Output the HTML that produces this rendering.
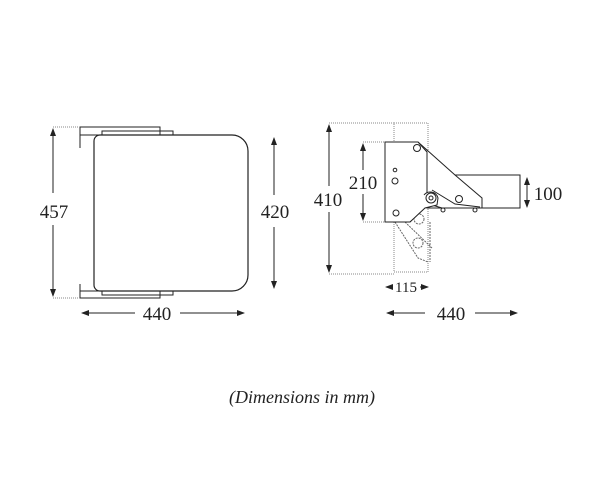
<!DOCTYPE html>
<html><head><style>body{margin:0;background:#fff}</style></head><body>
<svg width="601" height="481" viewBox="0 0 601 481" xmlns="http://www.w3.org/2000/svg" font-family="Liberation Serif, serif" fill="none" stroke="#222">
<defs><marker id="a" markerWidth="8" markerHeight="8" refX="7" refY="4" orient="auto-start-reverse"><path d="M0,1 L8,4 L0,7z" fill="#222" stroke="none"/></marker></defs>
<!-- left view -->
<rect x="80" y="127" width="80" height="8" stroke-width="1"/>
<rect x="102" y="131" width="71" height="4"/>
<rect x="80" y="291" width="80" height="7"/>
<rect x="102" y="291" width="71" height="4"/>
<path d="M80,135 V148 M80,284 V291" />
<path d="M100,135 H232 A16,16 0 0 1 248,151 V275 A16,16 0 0 1 232,291 H100 A6,6 0 0 1 94,285 V141 A6,6 0 0 1 100,135Z" fill="#fff" stroke-width="1.2"/>
<path d="M53,127 H80 M53,298 H80" stroke-dasharray="1,1" stroke="#888"/>
<line x1="53" y1="129" x2="53" y2="193" marker-start="url(#a)"/>
<line x1="53" y1="225" x2="53" y2="296" marker-end="url(#a)"/>
<line x1="274" y1="138" x2="274" y2="195" marker-start="url(#a)"/>
<line x1="274" y1="227" x2="274" y2="288" marker-end="url(#a)"/>
<line x1="82" y1="313" x2="135" y2="313" marker-start="url(#a)"/>
<line x1="180" y1="313" x2="244" y2="313" marker-end="url(#a)"/>
<g fill="#222" stroke="none" font-size="19" text-anchor="middle">
<text x="54" y="218">457</text><text x="275" y="218">420</text><text x="157" y="320">440</text>
</g>
<!-- right view -->
<rect x="394" y="123" width="34" height="149" stroke="#888" stroke-dasharray="1,1"/>
<path d="M329,123 H394 M329,274 H394 M363,142 H385 M363,222 H385" stroke="#888" stroke-dasharray="1,1"/>
<path d="M395,222 L418,258 L428,262 M405,222 L432,248 M430,222 L430,262" stroke="#666" stroke-dasharray="2,1"/>
<circle cx="418" cy="243" r="5" stroke="#666" stroke-dasharray="2,1"/>
<circle cx="419" cy="219" r="5" stroke="#666" stroke-dasharray="2,1"/>
<rect x="427" y="175" width="93" height="33" fill="#fff"/>
<path d="M418,142 L455,175 L482,198 V208 L442,208 L432,205" fill="#fff"/>
<path d="M432,190 L455,204 L480,207" />
<path d="M385,142 H418 L427,152 V205 L410,222 H385Z" fill="#fff"/>
<path d="M424,195 A8,8 0 0 1 438,198 L437,205 L425,208 L410,222" fill="#fff"/>
<g stroke-width="1" fill="#fff">
<circle cx="417" cy="148" r="3.5"/><circle cx="395" cy="170" r="1.8"/><circle cx="395" cy="181" r="3"/><circle cx="396" cy="213" r="3"/>
<circle cx="431" cy="198" r="5"/><circle cx="431" cy="198" r="2"/><circle cx="459" cy="199" r="3.5"/>
<circle cx="443" cy="210" r="2"/><circle cx="475" cy="210" r="2"/>
</g>
<line x1="329" y1="125" x2="329" y2="186" marker-start="url(#a)"/>
<line x1="329" y1="212" x2="329" y2="272" marker-end="url(#a)"/>
<line x1="363" y1="144" x2="363" y2="170" marker-start="url(#a)"/>
<line x1="363" y1="194" x2="363" y2="220" marker-end="url(#a)"/>
<line x1="527" y1="178" x2="527" y2="207" marker-start="url(#a)" marker-end="url(#a)"/>
<line x1="386" y1="287" x2="392" y2="287" marker-start="url(#a)"/>
<line x1="420" y1="287" x2="428" y2="287" marker-end="url(#a)"/>
<line x1="387" y1="313" x2="425" y2="313" marker-start="url(#a)"/>
<line x1="475" y1="313" x2="517" y2="313" marker-end="url(#a)"/>
<g fill="#222" stroke="none" font-size="19" text-anchor="middle">
<text x="328" y="206">410</text><text x="363" y="189">210</text><text x="548" y="200">100</text>
<text x="406" y="292" font-size="15">115</text><text x="451" y="320">440</text>
<text x="302" y="403" font-style="italic" font-size="18">(Dimensions in mm)</text>
</g>
</svg>
</body></html>
